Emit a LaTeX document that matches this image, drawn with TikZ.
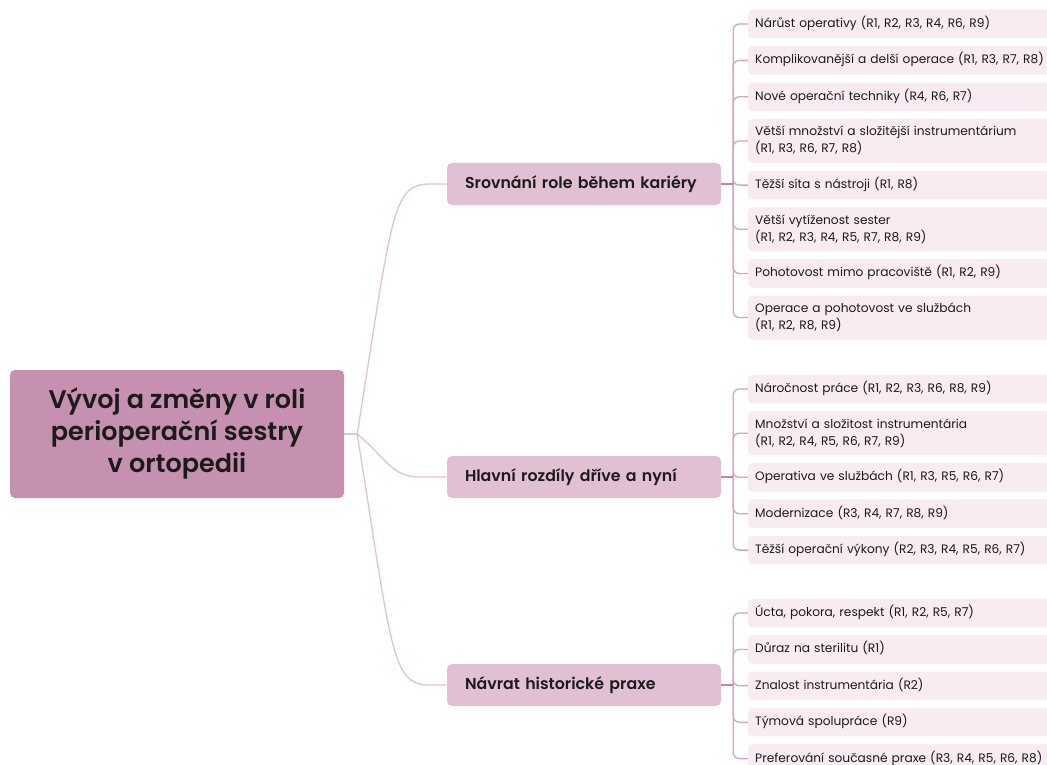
\documentclass[tikz,border=0pt]{standalone}
\usepackage{fontspec}
\setmainfont{Poppins}
\newfontfamily\rootfont{Poppins SemiBold}
\newfontfamily\topicfont{Poppins SemiBold}
\usepackage{xcolor}
\usetikzlibrary{positioning}

\definecolor{rootfill}{HTML}{C690B0}
\definecolor{topicfill}{HTML}{E1C0D3}
\definecolor{leaffill}{HTML}{F8EBF1}
\definecolor{rootline}{HTML}{E3C2D5}
\definecolor{trunkline}{HTML}{C9829F}
\definecolor{leafline}{HTML}{D7A4C2}
\definecolor{ink}{HTML}{1B1B1B}

\tikzset{
  root/.style={fill=rootfill, rounded corners=5pt, minimum width=334pt, minimum height=128pt,
    align=center, text=ink, font=\fontsize{25.5}{32}\selectfont\rootfont},
  topic/.style={fill=topicfill, rounded corners=5pt, text width=238pt, align=left,
    inner xsep=18pt, minimum height=42pt, text=ink, font=\fontsize{15.8}{18}\selectfont\topicfont},
  leaf/.style={fill=leaffill, rounded corners=4pt, text width=300pt, align=left,
    inner xsep=7pt, inner ysep=5pt, minimum height=28.5pt, text=ink,
    font=\fontsize{12.2}{17}\selectfont, execute at begin node=\strut, execute at end node=\strut},
  rootedge/.style={draw=rootline, line width=1.3pt},
  trunkedge/.style={draw=trunkline, line width=2pt},
  leafedge/.style={draw=leafline, line width=1.3pt, rounded corners=6pt}
}

\begin{document}
\begin{tikzpicture}[x=1pt, y=-1pt, node distance=7.5pt]
\useasboundingbox (0,0) rectangle (1047,765);
\clip (0,0) rectangle (1047,765);
\fill[white] (0,0) rectangle (1047,765);

% Uzly
\node[root] (root) at (177,434) {Vývoj a změny v roli\\perioperační sestry\\v ortopedii};
\node[topic] (s1) at (584,184) {Srovnání role během kariéry};
\node[topic] (s2) at (584,477) {Hlavní rozdíly dříve a nyní};
\node[topic] (s3) at (584,685) {Návrat historické praxe};

\node[leaf, anchor=west] (a1) at (748,24) {Nárůst operativy (R1, R2, R3, R4, R6, R9)};
\node[leaf, below=of a1] (a2) {Komplikovanější a delší operace (R1, R3, R7, R8)};
\node[leaf, below=of a2] (a3) {Nové operační techniky (R4, R6, R7)};
\node[leaf, below=of a3] (a4) {Větší množství a složitější instrumentárium\\(R1, R3, R6, R7, R8)};
\node[leaf, below=of a4] (a5) {Těžší síta s nástroji (R1, R8)};
\node[leaf, below=of a5] (a6) {Větší vytíženost sester\\(R1, R2, R3, R4, R5, R7, R8, R9)};
\node[leaf, below=of a6] (a7) {Pohotovost mimo pracoviště (R1, R2, R9)};
\node[leaf, below=of a7] (a8) {Operace a pohotovost ve službách\\(R1, R2, R8, R9)};

\node[leaf, anchor=west] (b1) at (748,389) {Náročnost práce (R1, R2, R3, R6, R8, R9)};
\node[leaf, below=of b1] (b2) {Množství a složitost instrumentária\\(R1, R2, R4, R5, R6, R7, R9)};
\node[leaf, below=of b2] (b3) {Operativa ve službách (R1, R3, R5, R6, R7)};
\node[leaf, below=of b3] (b4) {Modernizace (R3, R4, R7, R8, R9)};
\node[leaf, below=of b4] (b5) {Těžší operační výkony (R2, R3, R4, R5, R6, R7)};

\node[leaf, anchor=west] (c1) at (748,613) {Úcta, pokora, respekt (R1, R2, R5, R7)};
\node[leaf, below=of c1] (c2) {Důraz na sterilitu (R1)};
\node[leaf, below=of c2] (c3) {Znalost instrumentária (R2)};
\node[leaf, below=of c3] (c4) {Týmová spolupráce (R9)};
\node[leaf, below=of c4] (c5) {Preferování současné praxe (R3, R4, R5, R6, R8)};

% Spojnice
\coordinate[right=13pt of root.east] (hub);
\draw[rootedge] (root.east) -- (hub);
\draw[rootedge] (hub) .. controls +(35,-220) and ([xshift=-55pt]s1.west) .. ([xshift=-17pt]s1.west) -- (s1.west);
\draw[rootedge] (hub) .. controls +(30,25) and ([xshift=-55pt]s2.west) .. ([xshift=-27pt]s2.west) -- (s2.west);
\draw[rootedge] (hub) .. controls +(35,220) and ([xshift=-55pt]s3.west) .. ([xshift=-17pt]s3.west) -- (s3.west);

\coordinate[right=12pt of s1.east] (t1);
\coordinate[right=12pt of s2.east] (t2);
\coordinate[right=12pt of s3.east] (t3);
\foreach \l in {a1,a2,a3,a4,a5,a6,a7,a8}
  \draw[leafedge] (t1) |- (\l.west);
\foreach \l in {b1,b2,b3,b4,b5}
  \draw[leafedge] (t2) |- (\l.west);
\foreach \l in {c1,c2,c3,c4,c5}
  \draw[leafedge] (t3) |- (\l.west);
\draw[trunkedge] (s1.east) -- (t1);
\draw[trunkedge] (s2.east) -- (t2);
\draw[trunkedge] (s3.east) -- (t3);
\end{tikzpicture}
\end{document}
